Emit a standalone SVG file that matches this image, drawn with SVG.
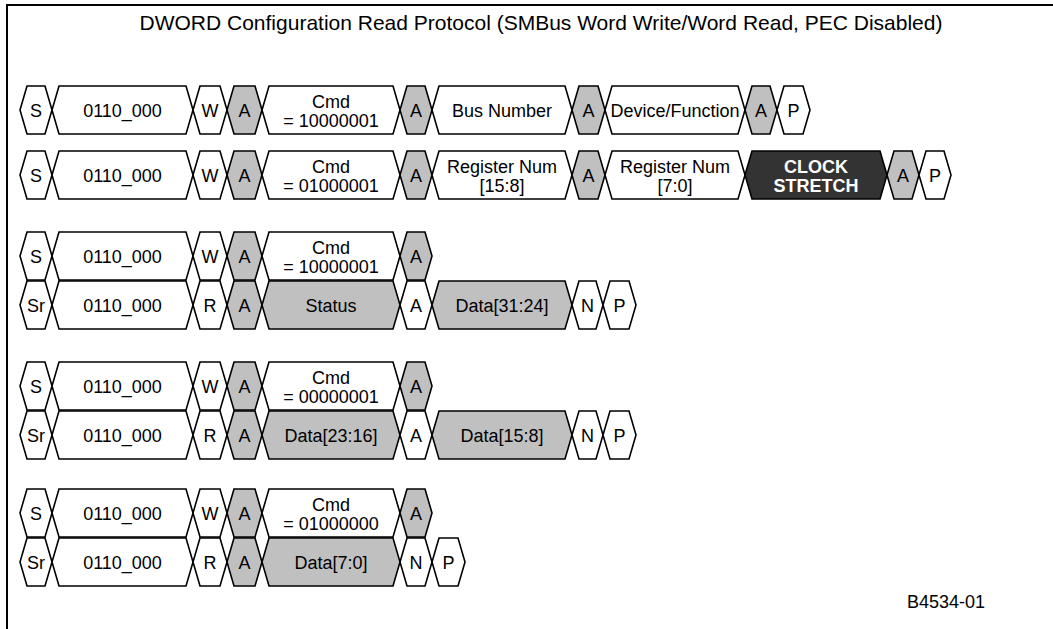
<svg xmlns="http://www.w3.org/2000/svg" width="1053" height="629" viewBox="0 0 1053 629">
<style>
.s{fill:#fff;stroke:#000;stroke-width:1.6;stroke-linejoin:miter}
.g{fill:#c0c0c0;stroke:#000;stroke-width:1.6}
.k{fill:#333;stroke:#000;stroke-width:1.6}
text{font-family:"Liberation Sans",Arial,sans-serif;font-size:18px;fill:#000;text-anchor:middle}
.w{fill:#fff;font-weight:bold}
.t{font-size:21px}
.id{text-anchor:start}
</style>
<rect width="1053" height="629" fill="#fff"/>
<g id="frame" fill="none" stroke="#000" stroke-width="2">
<path d="M7,629 V5 H1053"/>
</g>
<text class="t" x="541" y="30">DWORD Configuration Read Protocol (SMBus Word Write/Word Read, PEC Disabled)</text>

<g id="row1" transform="translate(0,86)">
<path class="s" d="M20,24 l7,-24 h18 l7,24 l-7,24 h-18 z"/><text x="36" y="30.5">S</text>
<path class="s" d="M52,24 l7,-24 h127 l7,24 l-7,24 h-127 z"/><text x="122.5" y="30.5">0110_000</text>
<path class="s" d="M193,24 l7,-24 h20 l7,24 l-7,24 h-20 z"/><text x="210" y="30.5">W</text>
<path class="g" d="M227,24 l7,-24 h21 l7,24 l-7,24 h-21 z"/><text x="244.5" y="30.5">A</text>
<path class="s" d="M262,24 l7,-24 h124 l7,24 l-7,24 h-124 z"/><text x="331" y="22">Cmd</text><text x="331" y="41">= 10000001</text>
<path class="g" d="M400,24 l7,-24 h18 l7,24 l-7,24 h-18 z"/><text x="416" y="30.5">A</text>
<path class="s" d="M432,24 l7,-24 h126 l7,24 l-7,24 h-126 z"/><text x="502" y="30.5">Bus Number</text>
<path class="g" d="M572,24 l7,-24 h19 l7,24 l-7,24 h-19 z"/><text x="588.5" y="30.5">A</text>
<path class="s" d="M605,24 l7,-24 h126 l7,24 l-7,24 h-126 z"/><text x="675" y="30.5">Device/Function</text>
<path class="g" d="M745,24 l7,-24 h18 l7,24 l-7,24 h-18 z"/><text x="761" y="30.5">A</text>
<path class="s" d="M777,24 l7,-24 h19 l7,24 l-7,24 h-19 z"/><text x="793.5" y="30.5">P</text>
</g>

<g id="row2" transform="translate(0,151)">
<path class="s" d="M20,24 l7,-24 h18 l7,24 l-7,24 h-18 z"/><text x="36" y="30.5">S</text>
<path class="s" d="M52,24 l7,-24 h127 l7,24 l-7,24 h-127 z"/><text x="122.5" y="30.5">0110_000</text>
<path class="s" d="M193,24 l7,-24 h20 l7,24 l-7,24 h-20 z"/><text x="210" y="30.5">W</text>
<path class="g" d="M227,24 l7,-24 h21 l7,24 l-7,24 h-21 z"/><text x="244.5" y="30.5">A</text>
<path class="s" d="M262,24 l7,-24 h124 l7,24 l-7,24 h-124 z"/><text x="331" y="22">Cmd</text><text x="331" y="41">= 01000001</text>
<path class="g" d="M400,24 l7,-24 h18 l7,24 l-7,24 h-18 z"/><text x="416" y="30.5">A</text>
<path class="s" d="M432,24 l7,-24 h126 l7,24 l-7,24 h-126 z"/><text x="502" y="22">Register Num</text><text x="502" y="41">[15:8]</text>
<path class="g" d="M572,24 l7,-24 h19 l7,24 l-7,24 h-19 z"/><text x="588.5" y="30.5">A</text>
<path class="s" d="M605,24 l7,-24 h126 l7,24 l-7,24 h-126 z"/><text x="675" y="22">Register Num</text><text x="675" y="41">[7:0]</text>
<path class="k" d="M745,24 l7,-24 h128 l7,24 l-7,24 h-128 z"/><text class="w" x="816" y="22">CLOCK</text><text class="w" x="816" y="41">STRETCH</text>
<path class="g" d="M887,24 l7,-24 h18 l7,24 l-7,24 h-18 z"/><text x="903" y="30.5">A</text>
<path class="s" d="M919,24 l7,-24 h18 l7,24 l-7,24 h-18 z"/><text x="935" y="30.5">P</text>
</g>

<g id="row3" transform="translate(0,232)">
<path class="s" d="M20,24 l7,-24 h18 l7,24 l-7,24 h-18 z"/><text x="36" y="30.5">S</text>
<path class="s" d="M52,24 l7,-24 h127 l7,24 l-7,24 h-127 z"/><text x="122.5" y="30.5">0110_000</text>
<path class="s" d="M193,24 l7,-24 h20 l7,24 l-7,24 h-20 z"/><text x="210" y="30.5">W</text>
<path class="g" d="M227,24 l7,-24 h21 l7,24 l-7,24 h-21 z"/><text x="244.5" y="30.5">A</text>
<path class="s" d="M262,24 l7,-24 h124 l7,24 l-7,24 h-124 z"/><text x="331" y="22">Cmd</text><text x="331" y="41">= 10000001</text>
<path class="g" d="M400,24 l7,-24 h18 l7,24 l-7,24 h-18 z"/><text x="416" y="30.5">A</text>
</g>

<g id="row4" transform="translate(0,281)">
<path class="s" d="M20,24 l7,-24 h18 l7,24 l-7,24 h-18 z"/><text x="36" y="30.5">Sr</text>
<path class="s" d="M52,24 l7,-24 h127 l7,24 l-7,24 h-127 z"/><text x="122.5" y="30.5">0110_000</text>
<path class="s" d="M193,24 l7,-24 h20 l7,24 l-7,24 h-20 z"/><text x="210" y="30.5">R</text>
<path class="g" d="M227,24 l7,-24 h21 l7,24 l-7,24 h-21 z"/><text x="244.5" y="30.5">A</text>
<path class="g" d="M262,24 l7,-24 h124 l7,24 l-7,24 h-124 z"/><text x="331" y="30.5">Status</text>
<path class="s" d="M400,24 l7,-24 h18 l7,24 l-7,24 h-18 z"/><text x="416" y="30.5">A</text>
<path class="g" d="M432,24 l7,-24 h126 l7,24 l-7,24 h-126 z"/><text x="502" y="30.5">Data[31:24]</text>
<path class="s" d="M572,24 l7,-24 h17 l7,24 l-7,24 h-17 z"/><text x="587.5" y="30.5">N</text>
<path class="s" d="M603,24 l7,-24 h19 l7,24 l-7,24 h-19 z"/><text x="619.5" y="30.5">P</text>
</g>

<g id="row5" transform="translate(0,362)">
<path class="s" d="M20,24 l7,-24 h18 l7,24 l-7,24 h-18 z"/><text x="36" y="30.5">S</text>
<path class="s" d="M52,24 l7,-24 h127 l7,24 l-7,24 h-127 z"/><text x="122.5" y="30.5">0110_000</text>
<path class="s" d="M193,24 l7,-24 h20 l7,24 l-7,24 h-20 z"/><text x="210" y="30.5">W</text>
<path class="g" d="M227,24 l7,-24 h21 l7,24 l-7,24 h-21 z"/><text x="244.5" y="30.5">A</text>
<path class="s" d="M262,24 l7,-24 h124 l7,24 l-7,24 h-124 z"/><text x="331" y="22">Cmd</text><text x="331" y="41">= 00000001</text>
<path class="g" d="M400,24 l7,-24 h18 l7,24 l-7,24 h-18 z"/><text x="416" y="30.5">A</text>
</g>

<g id="row6" transform="translate(0,411)">
<path class="s" d="M20,24 l7,-24 h18 l7,24 l-7,24 h-18 z"/><text x="36" y="30.5">Sr</text>
<path class="s" d="M52,24 l7,-24 h127 l7,24 l-7,24 h-127 z"/><text x="122.5" y="30.5">0110_000</text>
<path class="s" d="M193,24 l7,-24 h20 l7,24 l-7,24 h-20 z"/><text x="210" y="30.5">R</text>
<path class="g" d="M227,24 l7,-24 h21 l7,24 l-7,24 h-21 z"/><text x="244.5" y="30.5">A</text>
<path class="g" d="M262,24 l7,-24 h124 l7,24 l-7,24 h-124 z"/><text x="331" y="30.5">Data[23:16]</text>
<path class="s" d="M400,24 l7,-24 h18 l7,24 l-7,24 h-18 z"/><text x="416" y="30.5">A</text>
<path class="g" d="M432,24 l7,-24 h126 l7,24 l-7,24 h-126 z"/><text x="502" y="30.5">Data[15:8]</text>
<path class="s" d="M572,24 l7,-24 h17 l7,24 l-7,24 h-17 z"/><text x="587.5" y="30.5">N</text>
<path class="s" d="M603,24 l7,-24 h19 l7,24 l-7,24 h-19 z"/><text x="619.5" y="30.5">P</text>
</g>

<g id="row7" transform="translate(0,489)">
<path class="s" d="M20,24 l7,-24 h18 l7,24 l-7,24 h-18 z"/><text x="36" y="30.5">S</text>
<path class="s" d="M52,24 l7,-24 h127 l7,24 l-7,24 h-127 z"/><text x="122.5" y="30.5">0110_000</text>
<path class="s" d="M193,24 l7,-24 h20 l7,24 l-7,24 h-20 z"/><text x="210" y="30.5">W</text>
<path class="g" d="M227,24 l7,-24 h21 l7,24 l-7,24 h-21 z"/><text x="244.5" y="30.5">A</text>
<path class="s" d="M262,24 l7,-24 h124 l7,24 l-7,24 h-124 z"/><text x="331" y="22">Cmd</text><text x="331" y="41">= 01000000</text>
<path class="g" d="M400,24 l7,-24 h18 l7,24 l-7,24 h-18 z"/><text x="416" y="30.5">A</text>
</g>

<g id="row8" transform="translate(0,538)">
<path class="s" d="M20,24 l7,-24 h18 l7,24 l-7,24 h-18 z"/><text x="36" y="30.5">Sr</text>
<path class="s" d="M52,24 l7,-24 h127 l7,24 l-7,24 h-127 z"/><text x="122.5" y="30.5">0110_000</text>
<path class="s" d="M193,24 l7,-24 h20 l7,24 l-7,24 h-20 z"/><text x="210" y="30.5">R</text>
<path class="g" d="M227,24 l7,-24 h21 l7,24 l-7,24 h-21 z"/><text x="244.5" y="30.5">A</text>
<path class="g" d="M262,24 l7,-24 h124 l7,24 l-7,24 h-124 z"/><text x="331" y="30.5">Data[7:0]</text>
<path class="s" d="M400,24 l7,-24 h18 l7,24 l-7,24 h-18 z"/><text x="416" y="30.5">N</text>
<path class="s" d="M432,24 l7,-24 h19 l7,24 l-7,24 h-19 z"/><text x="448.5" y="30.5">P</text>
</g>

<g id="connectors"></g>
<text class="id" x="907" y="608">B4534-01</text>
</svg>
